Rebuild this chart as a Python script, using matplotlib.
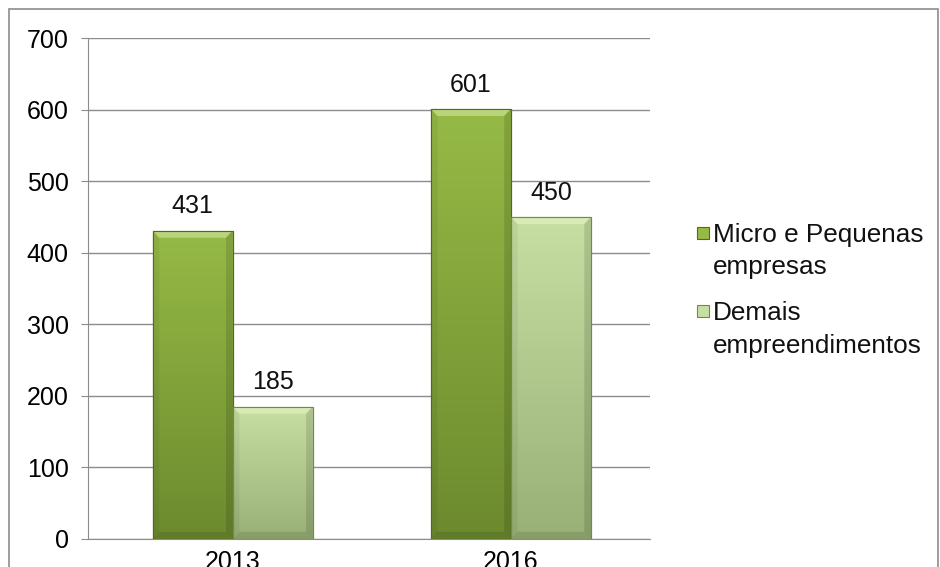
import matplotlib.pyplot as plt
import numpy as np
from matplotlib.patches import Rectangle, Polygon
from matplotlib.colors import LinearSegmentedColormap

plt.rcParams['font.family'] = ['Liberation Sans', 'DejaVu Sans']

anos = ['2013', '2016']
micro_pequenas = [431, 601]
demais = [185, 450]
series_nomes = ['Micro e Pequenas\nempresas', 'Demais\nempreendimentos']

cores_topo = ['#96ba46', '#c8dfa3']
cores_base = ['#6c8a2e', '#98b076']
cores_borda = ['#4f6a22', '#6f8a50']

W, H = 940, 567
fig = plt.figure(figsize=(W / 100, H / 100), dpi=100)
ax = fig.add_axes([88 / W, 28 / H, 562 / W, 501 / H])

# moldura cinza da área do gráfico
fig.patches.append(Rectangle((9 / W, -0.1), 929 / W, 1.1 - 9 / H,
                             transform=fig.transFigure, fill=False,
                             edgecolor='#8c8c8c', linewidth=1.2))

x = np.arange(len(anos))
largura = 0.288
bx = 0.024   # largura do chanfro (eixo x)
by = 10      # altura do chanfro (eixo y)

for i, valores in enumerate([micro_pequenas, demais]):
    pos = x - largura / 2 + i * largura
    barras = ax.bar(pos, valores, width=largura, color=cores_topo[i],
                    edgecolor=cores_borda[i], linewidth=0.8, zorder=3)
    cmap = LinearSegmentedColormap.from_list('g%d' % i, [cores_base[i], cores_topo[i]])
    for b, v in zip(barras, valores):
        x0 = b.get_x()
        x1 = x0 + largura
        grad = np.linspace(0, 1, 256).reshape(-1, 1)
        img = ax.imshow(grad, extent=[x0, x1, 0, v], origin='lower',
                        cmap=cmap, aspect='auto', zorder=3.5)
        img.set_clip_path(b)
        # chanfros: topo claro, laterais e base escuras
        ax.add_patch(Polygon([[x0, v], [x1, v], [x1 - bx, v - by], [x0 + bx, v - by]],
                             closed=True, color='#f4ffd0', alpha=0.4, lw=0, zorder=4))
        ax.add_patch(Polygon([[x0, 0], [x0, v], [x0 + bx, v - by], [x0 + bx, by]],
                             closed=True, color='black', alpha=0.05, lw=0, zorder=4))
        ax.add_patch(Polygon([[x1, 0], [x1, v], [x1 - bx, v - by], [x1 - bx, by]],
                             closed=True, color='black', alpha=0.12, lw=0, zorder=4))
        ax.add_patch(Polygon([[x0, 0], [x1, 0], [x1 - bx, by], [x0 + bx, by]],
                             closed=True, color='black', alpha=0.1, lw=0, zorder=4))
        ax.add_patch(Rectangle((x0, 0), largura, v, fill=False,
                               edgecolor=cores_borda[i], linewidth=0.8, zorder=5))
        ax.text(x0 + largura / 2, v + 17, str(v), ha='center', va='bottom',
                fontsize=18, color='#111111', zorder=6)

ax.set_xlim(-0.52, 1.5)
ax.set_ylim(0, 700)
ax.set_yticks(range(0, 701, 100))
ax.yaxis.grid(True, color='#8c8c8c', linewidth=1.0, zorder=0)
ax.set_axisbelow(True)
ax.tick_params(axis='y', length=5, color='#8c8c8c', labelsize=18, pad=9)
ax.set_xticks(x)
ax.set_xticklabels(anos)
ax.tick_params(axis='x', length=0, labelsize=18, pad=8)
for lado in ['top', 'right']:
    ax.spines[lado].set_visible(False)
ax.spines['left'].set_color('#8c8c8c')
ax.spines['bottom'].set_color('#8c8c8c')

# legenda com o marcador alinhado à primeira linha do texto
leg_y = [233, 311]
for i, nome in enumerate(series_nomes):
    yc = 1 - leg_y[i] / H
    fig.patches.append(Rectangle((697 / W, yc - 6 / H), 12 / W, 12 / H,
                                 transform=fig.transFigure, facecolor=cores_topo[i],
                                 edgecolor=cores_borda[i], linewidth=0.8))
    fig.text(713 / W, yc, nome.split('\n')[0], fontsize=18.8, va='center_baseline',
             color='#111111')
    fig.text(713 / W, yc - 32 / H, nome.split('\n')[1], fontsize=18.8,
             va='center_baseline', color='#111111')

fig.savefig('out.png', dpi=100)
